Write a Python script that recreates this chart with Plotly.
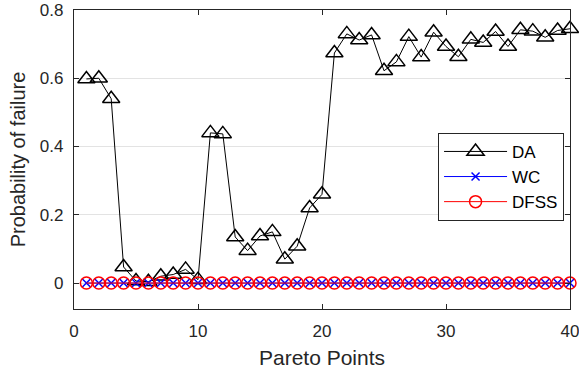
import plotly.graph_objects as go

x = list(range(1, 41))
da = [0.598, 0.600, 0.540, 0.047, 0.006, 0.004, 0.020, 0.025, 0.040, 0.010,
      0.440, 0.437, 0.135, 0.095, 0.138, 0.150, 0.070, 0.108, 0.220, 0.260,
      0.674, 0.730, 0.712, 0.727, 0.622, 0.648, 0.722, 0.662, 0.735, 0.693,
      0.663, 0.714, 0.705, 0.737, 0.693, 0.742, 0.738, 0.720, 0.740, 0.745]
wc = [0.0] * 40
dfss = [0.0] * 40

FONT = "Liberation Sans, Arial, Helvetica"
TXT = "#262626"

fig = go.Figure()
fig.add_trace(go.Scatter(x=x, y=da, name="DA", mode="lines+markers", cliponaxis=False,
                         line=dict(color="black", width=1),
                         marker=dict(symbol="triangle-up-open", size=15, color="black",
                                     line=dict(width=1.5, color="black"))))
fig.add_trace(go.Scatter(x=x, y=wc, name="WC", mode="lines+markers", cliponaxis=False,
                         line=dict(color="blue", width=1),
                         marker=dict(symbol="x-thin", size=8, color="blue",
                                     line=dict(width=1.5, color="blue"))))
fig.add_trace(go.Scatter(x=x, y=dfss, name="DFSS", mode="lines+markers", cliponaxis=False,
                         line=dict(color="red", width=1),
                         marker=dict(symbol="circle-open", size=12, color="red",
                                     line=dict(width=1.5, color="red"))))

axis_common = dict(showline=True, linecolor=TXT, linewidth=1.2, mirror="ticks",
                   ticks="inside", ticklen=5, tickcolor=TXT, automargin=False,
                   ticklabeloverflow="allow",
                   tickfont=dict(family=FONT, size=17, color=TXT),
                   zeroline=False)
fig.update_xaxes(range=[0, 40], dtick=10, showgrid=False, ticklabelstandoff=6,
                 title=dict(text="Pareto Points", font=dict(family=FONT, size=21, color=TXT), standoff=10),
                 **axis_common)
fig.update_yaxes(range=[-0.076, 0.8], tickvals=[0, 0.2, 0.4, 0.6, 0.8],
                 ticktext=["0", "0.2", "0.4", "0.6", "0.8"], ticklabelstandoff=6,
                 showgrid=True, gridcolor="#e3e3e3", gridwidth=1,
                 title=dict(text="Probability of failure", font=dict(family=FONT, size=20, color=TXT), standoff=8),
                 **axis_common)
fig.update_layout(width=579, height=375, margin=dict(l=74, r=9, t=10, b=66),
                  plot_bgcolor="white", paper_bgcolor="white",
                  showlegend=True, hovermode=False,
                  legend=dict(x=0.988, y=0.589, xanchor="right", yanchor="top",
                              bgcolor="white", bordercolor="#262626", borderwidth=1,
                              font=dict(family=FONT, size=17, color="black"),
                              tracegroupgap=0, itemwidth=63))
fig.write_html("out.html", config={"displayModeBar": False},
               post_script="document.body.style.margin='0';document.body.style.padding='0';")
